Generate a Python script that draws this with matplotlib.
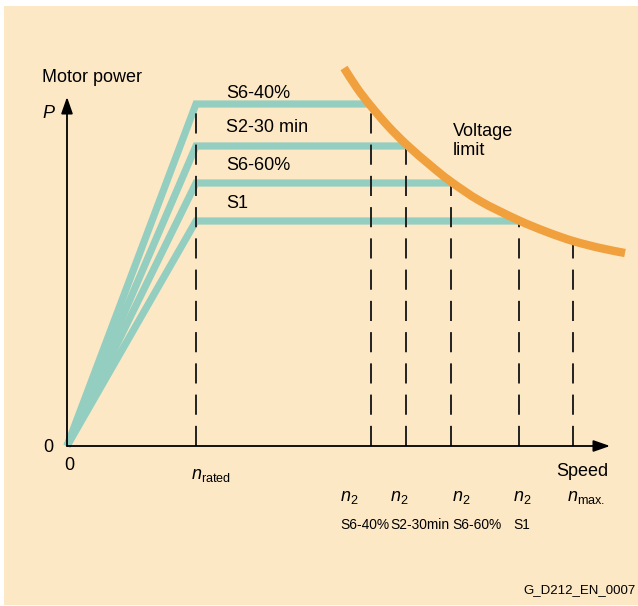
import matplotlib
matplotlib.use("Agg")
import matplotlib.pyplot as plt
from matplotlib.patches import Rectangle, PathPatch
from matplotlib.path import Path
from matplotlib import font_manager

plt.rcParams['font.family'] = ['Liberation Sans', 'DejaVu Sans']
plt.rcParams['mathtext.fontset'] = 'custom'
plt.rcParams['mathtext.rm'] = 'Liberation Sans'
plt.rcParams['mathtext.it'] = 'Liberation Sans:italic'

# ---- data (arbitrary units: speed, power) ----
modes = ["S6-40%", "S2-30 min", "S6-60%", "S1"]
mode_short = ["S6-40%", "S2-30min", "S6-60%", "S1"]
n_rated = 129
power_levels = [342, 300, 263, 225]
n2_speeds = [304, 339, 384, 452]
n_max = 506
p_at_nmax = 204
curve_speed = [277, 290, 303, 321, 340, 363, 383, 413, 451, 480, 506, 533, 558]
curve_power = [378, 358, 341, 320, 301, 281, 265, 245, 226, 214, 205, 198, 193]
speed_axis_max = 543
power_axis_max = 349

# ---- layout ----
mode_label_dy = [11, 18, 18, 17]
n2_label_dx = [-31, -16, 1, -6]

BEIGE = "#FDE8C6"
TEAL = "#93CEC0"
ORANGE = "#F0A03C"
DASH = "#222222"

names = {f.name for f in font_manager.fontManager.ttflist}
if "Liberation Sans Narrow" in names:
    narrow_kw = dict(family="Liberation Sans Narrow", fontsize=11)
else:
    narrow_kw = dict(fontsize=9.9)

fig = plt.figure(figsize=(6.38, 6.06), dpi=100)
fig.patch.set_facecolor("white")
ax = fig.add_axes([0, 0, 1, 1])
ax.set_xlim(-67, 571)
ax.set_ylim(-160, 446)
ax.axis("off")
ax.add_patch(Rectangle((4 / 638, 1 / 606), 634 / 638, 599 / 606,
                       transform=fig.transFigure, facecolor=BEIGE,
                       edgecolor="none", zorder=0, clip_on=False))

# teal characteristic lines
for p, n2 in zip(power_levels, n2_speeds):
    ax.plot([0, n_rated, n2], [0, p, p], color=TEAL, lw=5.2,
            solid_joinstyle="miter", solid_capstyle="butt", zorder=2)

# dashed verticals
lw_d = 1.4
dash_style = (0, (14.5 / lw_d, 8.0 / lw_d))
ax.plot([n_rated, n_rated], [0, max(power_levels)], color=DASH, lw=lw_d,
        linestyle=dash_style, zorder=3)
for p, n2 in zip(power_levels, n2_speeds):
    ax.plot([n2, n2], [0, p], color=DASH, lw=lw_d, linestyle=dash_style, zorder=3)
ax.plot([n_max, n_max], [0, p_at_nmax], color=DASH, lw=lw_d,
        linestyle=dash_style, zorder=3)

# voltage limit curve: smooth Bezier path through the read points
pts = list(zip(curve_speed, curve_power))
verts = [pts[0]]
codes = [Path.MOVETO]
for i in range(len(pts) - 1):
    p0 = pts[i - 1] if i > 0 else pts[i]
    p1 = pts[i]
    p2 = pts[i + 1]
    p3 = pts[i + 2] if i + 2 < len(pts) else pts[i + 1]
    c1 = (p1[0] + (p2[0] - p0[0]) / 6, p1[1] + (p2[1] - p0[1]) / 6)
    c2 = (p2[0] - (p3[0] - p1[0]) / 6, p2[1] - (p3[1] - p1[1]) / 6)
    verts += [c1, c2, p2]
    codes += [Path.CURVE4] * 3
ax.add_patch(PathPatch(Path(verts, codes), facecolor="none", edgecolor=ORANGE,
                       lw=6, capstyle="butt", zorder=4))

# axes with arrows
ax.annotate("", xy=(speed_axis_max, 0), xytext=(0, 0),
            arrowprops=dict(arrowstyle="-|>,head_length=1.0,head_width=0.35",
                            color="black", lw=1.3, shrinkA=0, shrinkB=0),
            zorder=5)
ax.annotate("", xy=(0, power_axis_max), xytext=(0, 0),
            arrowprops=dict(arrowstyle="-|>,head_length=1.0,head_width=0.35",
                            color="black", lw=1.3, shrinkA=0, shrinkB=0),
            zorder=5)

fs = 13
# mode labels
for lbl, p, dy in zip(modes, power_levels, mode_label_dy):
    ax.text(n_rated + 30, p + dy, lbl, fontsize=fs, ha="left", va="center")

ax.text(-25, 369, "Motor power", fontsize=fs, ha="left", va="center")
ax.text(-25, 333, "P", fontsize=fs, style="italic", ha="left", va="center")
ax.text(-14, -1, "0", fontsize=fs, ha="right", va="center")
ax.text(2, -20, "0", fontsize=fs, ha="center", va="center")
ax.text(n_rated - 5, -29, r"$n_{\mathrm{rated}}$", fontsize=fs, ha="left",
        va="center")
ax.text(speed_axis_max - 2, -26, "Speed", fontsize=fs, ha="right", va="center")
ax.text(386, 305, "Voltage\nlimit", fontsize=fs, ha="left", va="center",
        linespacing=1.15)

for n2, lbl, dx in zip(n2_speeds, mode_short, n2_label_dx):
    ax.text(n2 + dx, -52, r"$n_2$", fontsize=fs, ha="left", va="center")
    ax.text(n2 + dx, -79, lbl, ha="left", va="center", **narrow_kw)
ax.text(n_max - 6, -52, r"$n_{\mathrm{max.}}$", fontsize=fs, ha="left",
        va="center")

ax.text(569, -144, "G_D212_EN_0007", fontsize=9.5, ha="right", va="center")

fig.savefig("out.png", dpi=100)
